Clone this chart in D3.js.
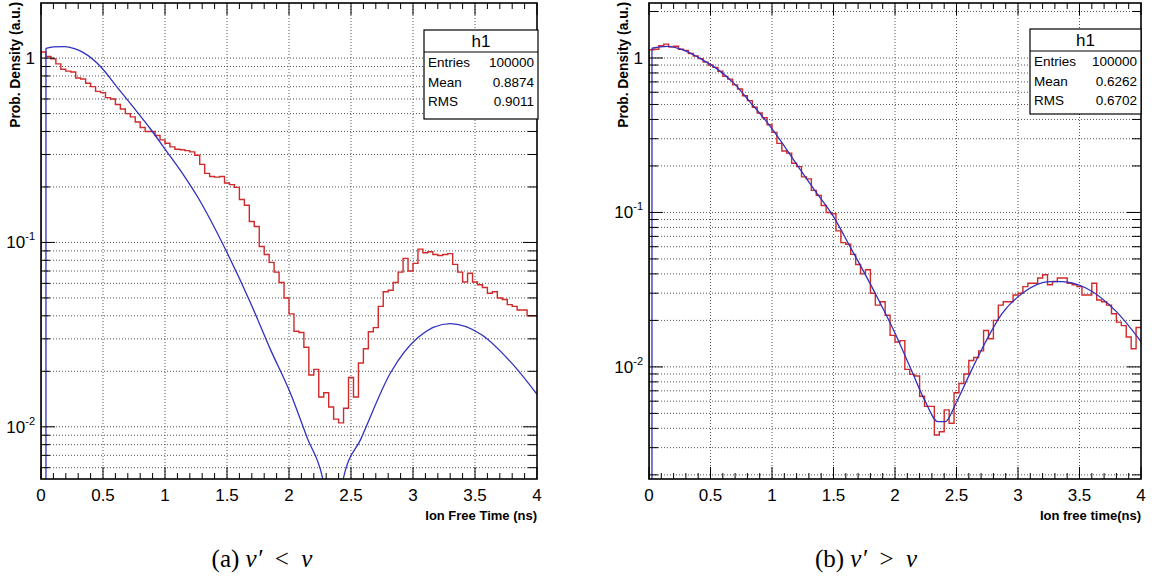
<!DOCTYPE html>
<html>
<head>
<meta charset="utf-8">
<script src="https://cdn.jsdelivr.net/npm/d3@7"></script>
<style>
    body { margin: 0; background: #fff; }
    text { font-family: 'Liberation Sans', Arial, sans-serif; }
</style>
</head>
<body>
<svg id="fig" width="1152" height="578"></svg>
<script>
    // histogram bins: 100 bins over 0..4 ns
    var binWidth = 0.04;

    var leftHist = [1.08, 1.02, 0.99, 0.93, 0.87, 0.85, 0.84, 0.78, 0.77, 0.73,
        0.70, 0.66, 0.65, 0.61, 0.60, 0.56, 0.53, 0.50, 0.48, 0.45,
        0.42, 0.40, 0.40, 0.38, 0.36, 0.345, 0.33, 0.32, 0.318, 0.315,
        0.31, 0.297, 0.265, 0.237, 0.228, 0.226, 0.228, 0.21, 0.206, 0.199,
        0.171, 0.159, 0.13, 0.122, 0.095, 0.086, 0.078, 0.069, 0.0606, 0.050,
        0.041, 0.033, 0.0325, 0.027, 0.0191, 0.0205, 0.0145, 0.0153, 0.0128, 0.0110,
        0.0105, 0.0126, 0.0185, 0.0145, 0.0222, 0.0265, 0.0328, 0.0345, 0.045, 0.054,
        0.055, 0.0606, 0.069, 0.082, 0.070, 0.077, 0.092, 0.088, 0.089, 0.086,
        0.085, 0.086, 0.087, 0.076, 0.069, 0.061, 0.068, 0.061, 0.059, 0.057,
        0.053, 0.054, 0.050, 0.049, 0.046, 0.045, 0.043, 0.043, 0.040, 0.040];

    var rightHist = [1.13, 1.14, 1.20, 1.23, 1.18, 1.19, 1.14, 1.12, 1.07, 1.03,
        0.99, 0.94, 0.90, 0.87, 0.82, 0.76, 0.73, 0.67, 0.63, 0.57,
        0.53, 0.48, 0.44, 0.41, 0.37, 0.33, 0.28, 0.25, 0.242, 0.208,
        0.198, 0.170, 0.165, 0.139, 0.129, 0.111, 0.100, 0.098, 0.076, 0.0638,
        0.0622, 0.0535, 0.046, 0.040, 0.0426, 0.030, 0.0251, 0.0264, 0.0216, 0.016,
        0.0145, 0.0148, 0.00964, 0.00895, 0.00873, 0.00646, 0.00555, 0.00555, 0.00362, 0.0038,
        0.00527, 0.00432, 0.0068, 0.0078, 0.0090, 0.011, 0.0115, 0.0127, 0.0172, 0.0152,
        0.020, 0.0251, 0.0264, 0.0264, 0.0292, 0.030, 0.0331, 0.0348, 0.0348, 0.0376,
        0.0395, 0.034, 0.0357, 0.0376, 0.0376, 0.0348, 0.034, 0.0331, 0.0292, 0.0292,
        0.0348, 0.0271, 0.0264, 0.0251, 0.0221, 0.0195, 0.0185, 0.0156, 0.0131, 0.018];

    // theory curves (blue)
    var leftFitT = [0.04, 0.1, 0.19, 0.27, 0.342, 0.48, 0.61, 0.746, 0.88, 1.016, 1.15, 1.26, 1.49, 1.69, 1.85,
        2.01, 2.15, 2.27, 2.32, 2.355, 2.40, 2.44, 2.58, 2.82, 3.04, 3.3, 3.55, 3.8, 4.0];
    var leftFitV = [1.13, 1.15, 1.155, 1.125, 1.07, 0.90, 0.70, 0.54, 0.415, 0.31, 0.232, 0.178, 0.091, 0.047, 0.0263,
        0.0153, 0.0086, 0.0053, 0.0035, 0.001, 0.0035, 0.0053, 0.0086, 0.0197, 0.0305, 0.0363, 0.0317, 0.022, 0.015];

    var rightFitT = [0.024, 0.146, 0.276, 0.415, 0.553, 0.683, 0.821, 0.959, 1.065, 1.228, 1.339, 1.50, 1.64,
        1.832, 1.996, 2.13, 2.24, 2.35, 2.41, 2.49, 2.60, 2.735, 2.87, 3.036, 3.255, 3.36, 3.556, 3.80, 4.0];
    var rightFitV = [1.156, 1.19, 1.13, 0.995, 0.85, 0.695, 0.52, 0.384, 0.295, 0.19, 0.142, 0.094, 0.059,
        0.0307, 0.0168, 0.00964, 0.00612, 0.00442, 0.00442, 0.00569, 0.00875, 0.01445, 0.0221, 0.030, 0.0357, 0.0357, 0.0323, 0.0228, 0.0146];

    var xTicks = [0, 0.5, 1, 1.5, 2, 2.5, 3, 3.5, 4];
    var xTickLabels = ["0", "0.5", "1", "1.5", "2", "2.5", "3", "3.5", "4"];
    var statNames = ["Entries", "Mean", "RMS"];
    var leftStats = ["100000", "0.8874", "0.9011"];
    var rightStats = ["100000", "0.6262", "0.6702"];

    var svg = d3.select("#fig");
    svg.append("rect").attr("width", 1152).attr("height", 578).attr("fill", "#fff");

    function drawPanel(p) {
        var g = svg.append("g");
        var x = d3.scaleLinear().domain([0, 4]).range([p.left, p.right]);
        var y = d3.scaleLog().domain(p.yDomain).range([p.bottom, p.top]);

        svg.append("clipPath").attr("id", p.id)
            .append("rect")
            .attr("x", p.left).attr("y", p.top)
            .attr("width", p.right - p.left).attr("height", p.bottom - p.top);

        // grid
        var yt = y.ticks().filter(function (v) {
            return y(v) > p.top + 2 && y(v) < p.bottom - 2;
        });
        g.selectAll(".gx").data(xTicks.slice(1, -1)).enter().append("line")
            .attr("x1", function (d) { return x(d); })
            .attr("x2", function (d) { return x(d); })
            .attr("y1", p.top).attr("y2", p.bottom)
            .attr("stroke", "#555").attr("stroke-width", 1)
            .attr("stroke-dasharray", "1,2");
        g.selectAll(".gy").data(yt).enter().append("line")
            .attr("x1", p.left).attr("x2", p.right)
            .attr("y1", function (d) { return y(d); })
            .attr("y2", function (d) { return y(d); })
            .attr("stroke", "#555").attr("stroke-width", 1)
            .attr("stroke-dasharray", "1,2");

        var plot = g.append("g").attr("clip-path", "url(#" + p.id + ")");

        // histogram as steps
        var pts = [[0, p.yDomain[0]]];
        p.hist.forEach(function (v, i) { pts.push([i * binWidth, v]); });
        pts.push([p.hist.length * binWidth, p.hist[p.hist.length - 1]]);
        plot.append("path")
            .datum(pts)
            .attr("fill", "none")
            .attr("stroke", "#d02a2a")
            .attr("stroke-width", 1.4)
            .attr("d", d3.line()
                .x(function (d) { return x(d[0]); })
                .y(function (d) { return y(d[1]); })
                .curve(d3.curveStepAfter));

        // fit curve
        var fit = p.fitT.map(function (t, i) { return [t, p.fitV[i]]; });
        plot.append("line")
            .attr("x1", x(fit[0][0])).attr("x2", x(fit[0][0]))
            .attr("y1", p.bottom).attr("y2", y(fit[0][1]))
            .attr("stroke", "#3030c0").attr("stroke-width", 1.3);
        plot.append("path")
            .datum(fit)
            .attr("fill", "none")
            .attr("stroke", "#3030c0")
            .attr("stroke-width", 1.3)
            .attr("d", d3.line()
                .x(function (d) { return x(d[0]); })
                .y(function (d) { return y(d[1]); })
                .curve(d3.curveMonotoneX));

        // frame
        g.append("rect")
            .attr("x", p.left).attr("y", p.top)
            .attr("width", p.right - p.left).attr("height", p.bottom - p.top)
            .attr("fill", "none").attr("stroke", "#000").attr("stroke-width", 1.6);

        // x ticks (bottom and top)
        var minor = d3.range(0, 41).map(function (i) { return i / 10; })
            .filter(function (v) { return Math.abs(v * 2 - Math.round(v * 2)) > 1e-6; });
        [[xTicks, 12], [minor, 6]].forEach(function (set) {
            g.selectAll(null).data(set[0]).enter().append("line")
                .attr("x1", function (d) { return x(d); })
                .attr("x2", function (d) { return x(d); })
                .attr("y1", p.bottom).attr("y2", p.bottom - set[1])
                .attr("stroke", "#000");
            g.selectAll(null).data(set[0]).enter().append("line")
                .attr("x1", function (d) { return x(d); })
                .attr("x2", function (d) { return x(d); })
                .attr("y1", p.top).attr("y2", p.top + set[1])
                .attr("stroke", "#000");
        });

        // y ticks (left and right)
        function isMajor(v) {
            var l = Math.log10(v);
            return Math.abs(l - Math.round(l)) < 1e-6;
        }
        g.selectAll(null).data(yt).enter().append("line")
            .attr("x1", p.left)
            .attr("x2", function (d) { return p.left + (isMajor(d) ? 14 : 9); })
            .attr("y1", function (d) { return y(d); })
            .attr("y2", function (d) { return y(d); })
            .attr("stroke", "#000");
        g.selectAll(null).data(yt).enter().append("line")
            .attr("x1", p.right)
            .attr("x2", function (d) { return p.right - (isMajor(d) ? 14 : 9); })
            .attr("y1", function (d) { return y(d); })
            .attr("y2", function (d) { return y(d); })
            .attr("stroke", "#000");

        // x tick labels
        g.selectAll(null).data(xTicks).enter().append("text")
            .attr("x", function (d) { return x(d); })
            .attr("y", p.bottom + 22)
            .attr("text-anchor", "middle")
            .attr("font-size", "17px")
            .text(function (d, i) { return xTickLabels[i]; });

        // y tick labels
        yt.filter(isMajor).forEach(function (v) {
            var e = Math.round(Math.log10(v));
            var t = g.append("text")
                .attr("x", p.left - 6)
                .attr("y", y(v) + 6)
                .attr("text-anchor", "end")
                .attr("font-size", "17px");
            if (e === 0) {
                t.text("1");
            } else {
                t.append("tspan").text("10");
                t.append("tspan").attr("font-size", "11px").attr("dy", -8).text(String(e));
            }
        });

        // axis titles
        g.append("text")
            .attr("transform", "translate(" + p.yTitleX + "," + (p.top - 1) + ") rotate(-90)")
            .attr("text-anchor", "end")
            .attr("font-size", "13.8px")
            .attr("font-weight", "bold")
            .text("Prob. Density (a.u.)");
        g.append("text")
            .attr("x", p.right)
            .attr("y", p.bottom + 41)
            .attr("text-anchor", "end")
            .attr("font-size", "13px")
            .attr("font-weight", "bold")
            .text(p.xTitle);

        // stats box
        var b = p.box;
        g.append("rect")
            .attr("x", b.x).attr("y", b.y).attr("width", b.w).attr("height", b.h)
            .attr("fill", "#fff").attr("stroke", "#000").attr("stroke-width", 1.2);
        g.append("line")
            .attr("x1", b.x).attr("x2", b.x + b.w)
            .attr("y1", b.sep).attr("y2", b.sep)
            .attr("stroke", "#000").attr("stroke-width", 1.2);
        g.append("text")
            .attr("x", b.x + b.w / 2).attr("y", b.sep - 5)
            .attr("text-anchor", "middle").attr("font-size", "17px")
            .text("h1");
        statNames.forEach(function (n, i) {
            g.append("text")
                .attr("x", b.x + 4).attr("y", b.sep + 15 + i * 19.7)
                .attr("font-size", "13.5px").text(n);
            g.append("text")
                .attr("x", b.x + b.w - 4).attr("y", b.sep + 15 + i * 19.7)
                .attr("text-anchor", "end")
                .attr("font-size", "13.5px").text(p.stats[i]);
        });

        // caption: (a) ν′ < ν
        var cap = svg.append("text")
            .attr("x", p.capX).attr("y", 567)
            .attr("text-anchor", "middle")
            .style("font-family", "'Liberation Serif', 'Times New Roman', serif")
            .attr("font-size", "25px");
        cap.append("tspan").text(p.caption[0] + " ");
        cap.append("tspan").attr("font-style", "italic").text("\u03BD\u2032");
        cap.append("tspan").text("\u2002" + p.caption[1] + "\u2002");
        cap.append("tspan").attr("font-style", "italic").text("\u03BD");
    }

    drawPanel({
        id: "clipA", left: 41, right: 537, top: 3, bottom: 479,
        yDomain: [0.00521, 1.99], hist: leftHist, fitT: leftFitT, fitV: leftFitV,
        xTitle: "Ion Free Time (ns)", yTitleX: 20,
        box: { x: 424, y: 30, w: 114, h: 89, sep: 52 },
        stats: leftStats, caption: ["(a)", "<"], capX: 262
    });
    drawPanel({
        id: "clipB", left: 649, right: 1141, top: 3, bottom: 479,
        yDomain: [0.00188, 2.27], hist: rightHist, fitT: rightFitT, fitV: rightFitV,
        xTitle: "Ion free time(ns)", yTitleX: 628,
        box: { x: 1030, y: 29, w: 111, h: 85, sep: 51 },
        stats: rightStats, caption: ["(b)", ">"], capX: 866
    });
</script>
</body>
</html>
